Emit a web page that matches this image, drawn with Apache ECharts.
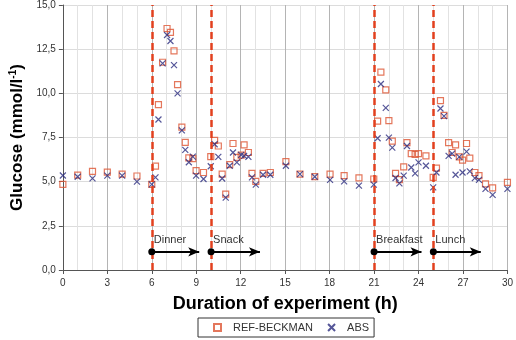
<!DOCTYPE html>
<html>
<head>
<meta charset="utf-8">
<script src="https://cdn.jsdelivr.net/npm/echarts@6/dist/echarts.min.js"></script>
<style>
  html, body { margin: 0; padding: 0; background: #fff; }
  #chart { width: 516px; height: 340px; }
</style>
</head>
<body>
<div id="chart"></div>
<script>
// sampling times (h) shared by both methods
const hours = [0, 1, 2, 3, 4, 5, 6, 6.25, 6.45, 6.73, 7.03, 7.26, 7.5, 7.74, 8.03, 8.26, 8.5, 8.77, 8.99, 9.49,
  9.98, 10.24, 10.49, 10.75, 10.99, 11.26, 11.48, 11.74, 12.03, 12.23, 12.52, 12.76, 13.02, 13.51, 14, 15.05, 16, 17, 18.03, 18.98,
  19.98, 20.98, 21.24, 21.46, 21.79, 22, 22.23, 22.45, 22.71, 23, 23.22, 23.51, 23.77, 24, 24.5, 24.99, 25.21, 25.48, 25.72, 26.03,
  26.27, 26.5, 26.75, 26.97, 27.24, 27.46, 27.8, 28.08, 28.52, 29, 30]
const refBeckman = [4.85, 5.37, 5.58, 5.54, 5.43, 5.32, 4.85, 5.88, 9.36, 11.76, 13.67, 13.45, 12.4, 10.49, 8.09, 7.22, 6.35, 6.3, 5.62, 5.52,
  6.42, 7.34, 7.02, 5.43, 4.3, 5.96, 7.16, 6.37, 6.5, 7.08, 6.65, 5.47, 5.02, 5.47, 5.52, 6.14, 5.43, 5.28, 5.43, 5.34,
  5.21, 5.15, 8.43, 11.2, 10.2, 8.46, 7.3, 5.47, 5.11, 5.84, 7.21, 6.59, 6.55, 6.59, 6.46, 5.24, 5.77, 9.59, 8.75, 7.21,
  6.65, 7.08, 6.4, 6.22, 7.16, 6.33, 5.52, 5.34, 4.87, 4.65, 4.96]
const abs = [5.35, 5.28, 5.19, 5.34, 5.34, 5.0, 4.85, 5.24, 8.52, 11.7, 13.3, 12.96, 11.6, 10.0, 7.9, 6.8, 6.1, 6.42, 5.34, 5.15,
  5.87, 7.12, 6.4, 5.18, 4.1, 5.9, 6.65, 6.09, 6.52, 6.46, 6.4, 5.24, 4.83, 5.39, 5.39, 5.9, 5.43, 5.28, 5.1, 5.02,
  4.78, 4.83, 7.46, 10.53, 9.18, 7.49, 6.93, 5.21, 4.9, 5.34, 7.02, 5.8, 5.47, 6.09, 5.9, 4.68, 5.52, 9.14, 8.71, 6.46,
  6.59, 5.39, 6.4, 5.52, 6.7, 5.58, 5.2, 5.1, 4.59, 4.25, 4.59]

// meals: start time, arrow end, label
const mealNames = ['Dinner', 'Snack', 'Breakfast', 'Lunch']
const mealStart = [6, 10, 21, 25]
const mealArrowEnd = [9.2, 13.3, 24.2, 28.2]
const arrowLevel = 1.03

const xTicks = [0, 3, 6, 9, 12, 15, 18, 21, 24, 27, 30]

const refColor = '#DD5533'
const absColor = '#2B2C7E'
const font = 'Liberation Sans, Arial, sans-serif'

const chart = echarts.init(document.getElementById('chart'))

function pairs(xs, ys) {
  return xs.map((x, i) => [x, ys[i]])
}

const option = {
  animation: false,
  textStyle: { fontFamily: font },
  grid: { left: 56, right: 6, top: 4, bottom: 70, show: false },
  legend: {
    data: ['REF-BECKMAN', 'ABS'],
    left: 198,
    top: 318,
    itemWidth: 7,
    itemHeight: 7,
    itemGap: 14,
    padding: [4, 5, 4, 15],
    borderColor: '#333',
    borderWidth: 1,
    textStyle: { fontSize: 11, color: '#333', fontFamily: font, padding: [0, 0, 0, 7] }
  },
  xAxis: {
    type: 'value',
    min: 0,
    max: 30,
    interval: 3,
    name: 'Duration of experiment (h)',
    nameLocation: 'middle',
    nameGap: 25,
    nameTextStyle: { fontSize: 18, fontWeight: 'bold', color: '#000', fontFamily: font },
    axisLine: { show: true, onZero: false, lineStyle: { color: '#555' } },
    axisTick: { show: true, length: 4, lineStyle: { color: '#555' } },
    minorTick: { show: false, splitNumber: 3 },
    axisLabel: {
      color: '#333',
      fontSize: 10,
      margin: 8,
      formatter: v => xTicks.indexOf(v) >= 0 ? String(v) : ''
    },
    splitLine: { show: true, lineStyle: { color: '#b4b4b4', width: 1 } },
    minorSplitLine: { show: true, lineStyle: { color: '#e2e2e2', width: 1 } }
  },
  yAxis: {
    type: 'value',
    min: 0,
    max: 15,
    interval: 2.5,
    name: 'Glucose (mmol/l{sup|-1})',
    nameLocation: 'middle',
    nameRotate: 90,
    nameGap: 35,
    nameTextStyle: {
      fontSize: 17,
      fontWeight: 'bold',
      color: '#000',
      fontFamily: font,
      rich: {
        sup: { fontSize: 10, fontWeight: 'bold', color: '#000', verticalAlign: 'top', padding: [0, 0, 8, 0] }
      }
    },
    axisLine: { show: true, lineStyle: { color: '#555' } },
    axisTick: { show: true, length: 4, lineStyle: { color: '#555' } },
    axisLabel: {
      color: '#333',
      fontSize: 10,
      margin: 7,
      formatter: v => v.toFixed(1).replace('.', ',')
    },
    splitLine: { show: true, lineStyle: { color: '#dcdcdc' } }
  },
  series: [
    {
      name: 'meal lines',
      type: 'scatter',
      data: [],
      silent: true,
      markLine: {
        silent: true,
        symbol: 'none',
        label: { show: false },
        lineStyle: { color: '#E2401E', width: 2.5, type: [7, 4] },
        data: mealStart.map(x => ({ xAxis: x }))
      }
    },
    {
      name: 'meal arrows',
      type: 'scatter',
      data: [],
      silent: true,
      z: 5,
      markLine: {
        silent: true,
        symbol: ['circle', 'arrow'],
        symbolSize: [7, 11],
        lineStyle: { color: '#000', width: 2, type: 'solid' },
        label: {
          show: true,
          position: 'insideStartTop',
          formatter: p => p.name,
          color: '#333',
          fontSize: 11,
          fontFamily: font,
          distance: [2, 6]
        },
        data: mealNames.map((n, i) => [
          { name: n, coord: [mealStart[i], arrowLevel] },
          { coord: [mealArrowEnd[i], arrowLevel] }
        ])
      }
    },
    {
      name: 'REF-BECKMAN',
      type: 'scatter',
      symbol: 'rect',
      symbolSize: 6,
      itemStyle: { color: 'rgba(255,255,255,0)', borderColor: refColor, borderWidth: 1.2 },
      data: pairs(hours, refBeckman),
      z: 3
    },
    {
      name: 'ABS',
      type: 'scatter',
      symbol: 'path://M0,0L10,10M10,0L0,10',
      symbolSize: 6,
      itemStyle: { color: 'rgba(0,0,0,0)', borderColor: absColor, borderWidth: 1.2 },
      data: pairs(hours, abs),
      z: 4
    }
  ]
}

chart.setOption(option)
</script>
</body>
</html>
